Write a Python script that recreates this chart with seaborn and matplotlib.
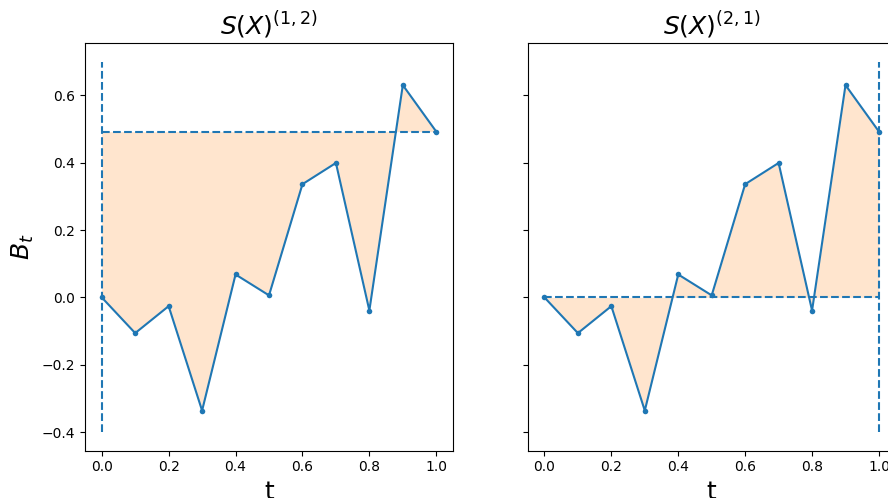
import numpy as np
import pandas as pd
import seaborn as sns
import matplotlib.pyplot as plt

# path values
t = [0.0, 0.1, 0.2, 0.3, 0.4, 0.5, 0.6, 0.7, 0.8, 0.9, 1.0]
B = [0.0, -0.106, -0.026, -0.336, 0.068, 0.006, 0.336, 0.399, -0.039, 0.630, 0.492]
titles = ['$S(X)^{(1,2)}$', '$S(X)^{(2,1)}$']

df = pd.DataFrame({'t': t, 'B': B})

fig = plt.figure(figsize=(8.88, 4.98), dpi=100)
W, H = 888, 498
ax1 = fig.add_axes([85 / W, (H - 450.7) / H, 368 / W, 407.7 / H])
ax2 = fig.add_axes([527.7 / W, (H - 450.7) / H, 368 / W, 407.7 / H], sharey=ax1)

for ax in (ax1, ax2):
    sns.lineplot(data=df, x='t', y='B', ax=ax, color='C0', marker='o',
                 markersize=4, markeredgewidth=0, linewidth=1.5)

# S(X)^(1,2): integrate against X1, reference level at the end value
ax1.vlines(t[0], -0.4, 0.7, colors='C0', linestyles='--')
ax1.hlines(B[-1], t[0], t[-1], colors='C0', linestyles='--')
ax1.fill_between(t, B, B[-1], color='C1', alpha=0.2, linewidth=0)

# S(X)^(2,1): reference level at zero
ax2.hlines(0, t[0], t[-1], colors='C0', linestyles='--')
ax2.vlines(t[-1], -0.4, 0.7, colors='C0', linestyles='--')
ax2.fill_between(t, B, 0, color='C1', alpha=0.2, linewidth=0)

ax1.set_title(titles[0], fontsize=18)
ax2.set_title(titles[1], fontsize=18)
ax1.set_ylabel('$B_t$', fontsize=18)
ax2.set_ylabel('')
ax1.set_xlabel('t', fontsize=18)
ax2.set_xlabel('t', fontsize=18)
ax2.tick_params(labelleft=False)

fig.savefig('out.png', dpi=100)
